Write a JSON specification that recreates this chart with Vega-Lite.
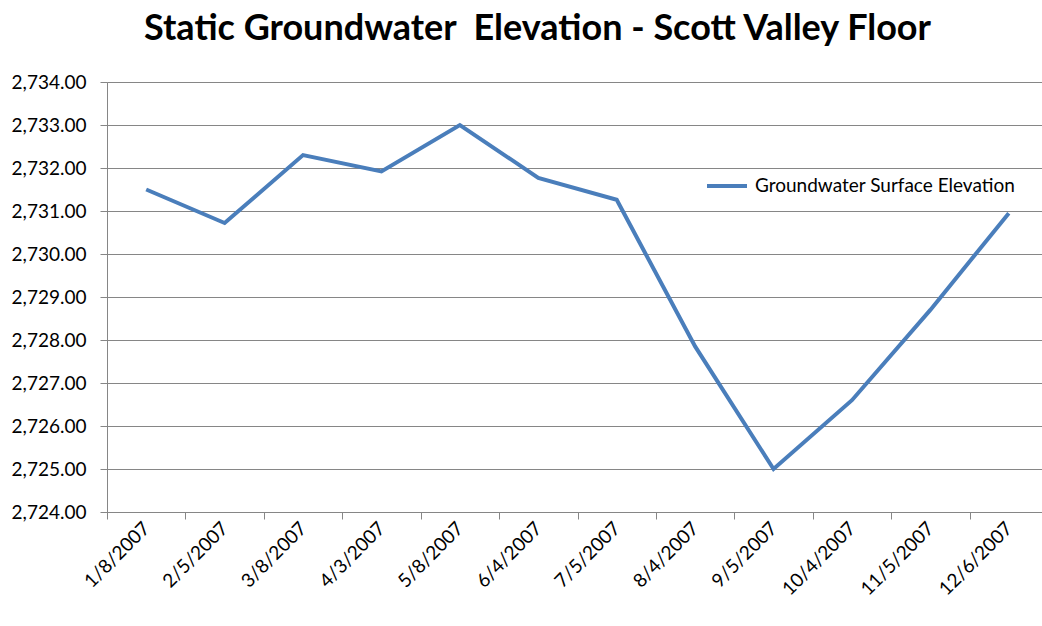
{
  "$schema": "https://vega.github.io/schema/vega-lite/v6.json",
  "autosize": "none",
  "padding": {"left": 107, "top": 82, "right": 0, "bottom": 114},
  "width": 941,
  "height": 430,
  "background": "white",
  "title": {
    "text": "Static Groundwater\u00a0 Elevation - Scott Valley Floor",
    "font": "Lato",
    "fontSize": 36,
    "fontWeight": "bold",
    "color": "#000000",
    "anchor": "middle",
    "frame": "group",
    "dx": -40,
    "offset": 25
  },
  "data": {
    "values": [
      {"date": "1/8/2007", "elev": 2731.5, "series": "Groundwater Surface Elevation"},
      {"date": "2/5/2007", "elev": 2730.72, "series": "Groundwater Surface Elevation"},
      {"date": "3/8/2007", "elev": 2732.3, "series": "Groundwater Surface Elevation"},
      {"date": "4/3/2007", "elev": 2731.92, "series": "Groundwater Surface Elevation"},
      {"date": "5/8/2007", "elev": 2733.0, "series": "Groundwater Surface Elevation"},
      {"date": "6/4/2007", "elev": 2731.77, "series": "Groundwater Surface Elevation"},
      {"date": "7/5/2007", "elev": 2731.26, "series": "Groundwater Surface Elevation"},
      {"date": "8/4/2007", "elev": 2727.85, "series": "Groundwater Surface Elevation"},
      {"date": "9/5/2007", "elev": 2725.0, "series": "Groundwater Surface Elevation"},
      {"date": "10/4/2007", "elev": 2726.6, "series": "Groundwater Surface Elevation"},
      {"date": "11/5/2007", "elev": 2728.7, "series": "Groundwater Surface Elevation"},
      {"date": "12/6/2007", "elev": 2730.95, "series": "Groundwater Surface Elevation"}
    ]
  },
  "mark": {"type": "line", "strokeWidth": 4, "strokeCap": "butt"},
  "encoding": {
    "x": {
      "field": "date",
      "type": "ordinal",
      "sort": null,
      "bandPosition": 0.5,
      "scale": {"type": "band", "paddingInner": 0, "paddingOuter": 0},
      "axis": {
        "title": null,
        "tickBand": "extent",
        "labelAngle": -45,
        "labelAlign": "right",
        "labelBaseline": "middle",
        "labelFont": "Lato",
        "labelFontSize": 19,
        "labelColor": "#000000",
        "labelPadding": 6,
        "tickSize": 7,
        "tickColor": "#868686",
        "domainColor": "#868686",
        "grid": false
      }
    },
    "y": {
      "field": "elev",
      "type": "quantitative",
      "scale": {"domain": [2724, 2734], "nice": false, "zero": false},
      "axis": {
        "title": null,
        "values": [2724, 2725, 2726, 2727, 2728, 2729, 2730, 2731, 2732, 2733, 2734],
        "format": ",.2f",
        "labelFont": "Lato",
        "labelFontSize": 19,
        "labelColor": "#000000",
        "labelPadding": 14,
        "tickSize": 7,
        "tickColor": "#868686",
        "domainColor": "#868686",
        "gridColor": "#868686",
        "gridOpacity": 1,
        "grid": true
      }
    },
    "color": {
      "field": "series",
      "type": "nominal",
      "scale": {"range": ["#4A7EBB"]},
      "legend": {
        "title": null,
        "orient": "none",
        "legendX": 598,
        "legendY": 82,
        "symbolType": "stroke",
        "symbolSize": 1600,
        "symbolStrokeWidth": 4,
        "labelFont": "Lato",
        "labelFontSize": 19,
        "labelLimit": 400,
        "labelColor": "#000000",
        "labelOffset": 6
      }
    }
  }
}
